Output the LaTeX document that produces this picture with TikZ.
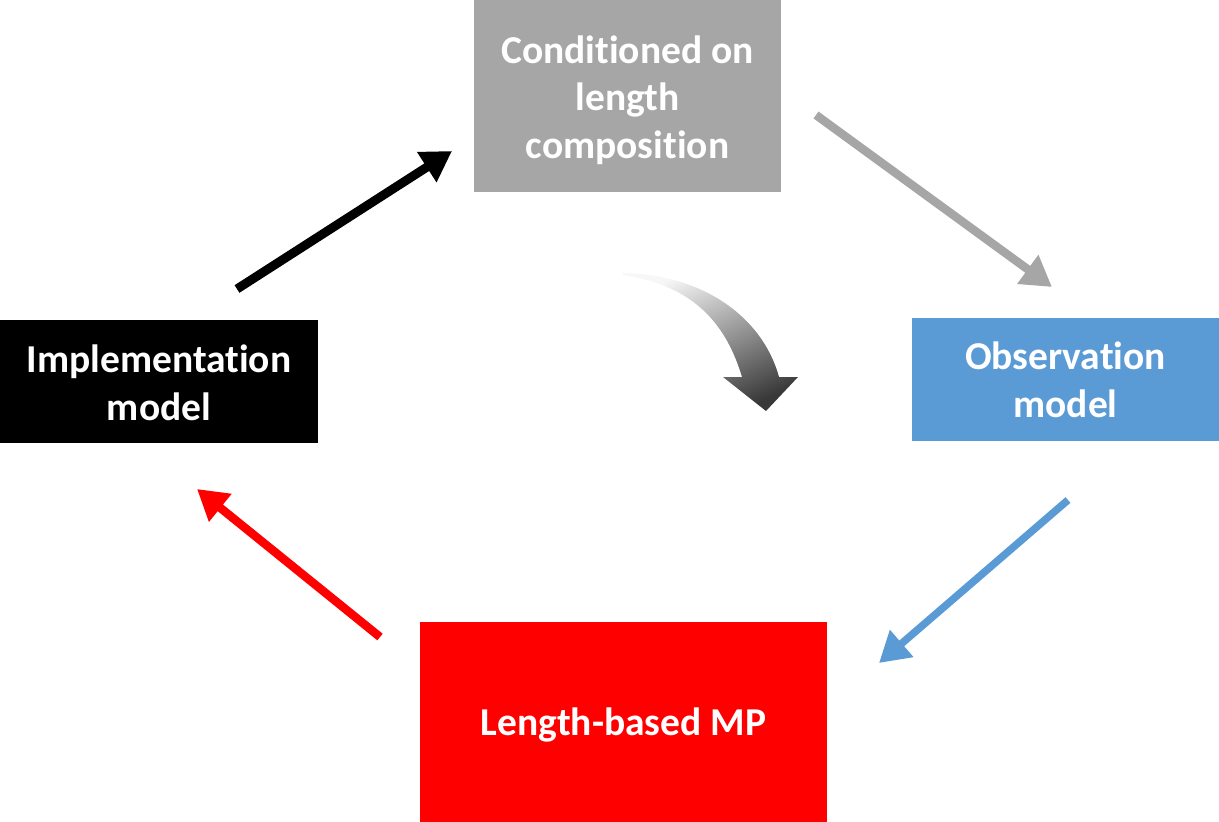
\documentclass[tikz,border=0pt]{standalone}
\usepackage{fontspec}
\setmainfont[Ligatures=NoCommon]{Carlito}
\usetikzlibrary{arrows.meta}
\definecolor{boxgray}{HTML}{A6A6A6}
\definecolor{boxblue}{HTML}{5B9BD5}
\definecolor{boxred}{HTML}{FF0000}
\tikzset{
  box/.style={rectangle, inner sep=0pt},
  lbl/.style={inner sep=0pt, text=white, align=center,
    font=\fontsize{39.5}{47.5}\selectfont\bfseries},
  conn/.style={-{Triangle[length=30pt,width=34pt]}, line width=8.5pt},
}
\begin{document}
\begin{tikzpicture}[x=1pt,y=-1pt]
\useasboundingbox (0,0) rectangle (1219,822);
\node[box, fill=boxgray, minimum width=307pt, minimum height=192pt] (top) at (627.5,96) {};
\node[lbl] (toplbl) at ([yshift=-4pt]top.center) {Conditioned on\\length\\composition};
\node[box, fill=black, minimum width=318pt, minimum height=123pt] (left) at (159,381.5) {};
\node[lbl] (leftlbl) at ([yshift=-1.5pt]left.center) {Implementation\\model};
\node[box, fill=boxblue, minimum width=307pt, minimum height=123pt] (right) at (1065.5,379.5) {};
\node[lbl] (rightlbl) at ([yshift=-0.5pt]right.center) {Observation\\model};
\node[box, fill=boxred, minimum width=407pt, minimum height=200pt] (bottom) at (623.5,722) {};
\node[lbl] (bottomlbl) at ([yshift=-3pt]bottom.center) {Length-based MP};
\coordinate (a1) at (237,289); \coordinate (a2) at (452,151);
\coordinate (b1) at (816,115); \coordinate (b2) at (1052,287);
\coordinate (c1) at (1068,500); \coordinate (c2) at (879,663);
\coordinate (d1) at (380,637); \coordinate (d2) at (197,489);
\draw[conn, black, line width=9pt] (a1) -- (a2);
\draw[conn, boxgray] (b1) -- (b2);
\draw[conn, boxblue, line width=7.5pt] (c1) -- (c2);
\draw[conn, boxred] (d1) -- (d2);
\shade[top color=black!3, bottom color=black!78, shading angle=25]
  (623,273) .. controls (700,274) and (762,315) .. (779,377)
  -- (798,377) -- (766,411) -- (723,377) -- (742,377)
  .. controls (725,320) and (690,285) .. (623,275) -- cycle;
\end{tikzpicture}
\end{document}
